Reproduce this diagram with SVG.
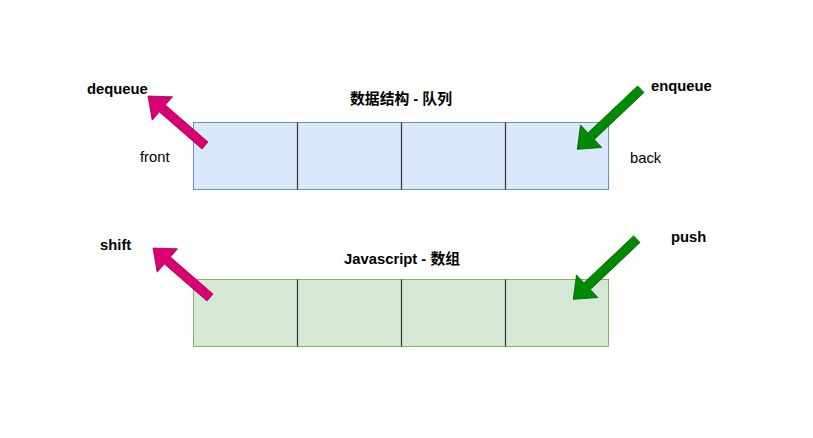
<svg xmlns="http://www.w3.org/2000/svg" width="813" height="438" viewBox="0 0 813 438">
<style>
.bg{fill:#ffffff}
.qcell{fill:#dae8fc;stroke:#6c8ebf;stroke-width:1}
.acell{fill:#d5e8d4;stroke:#82b366;stroke-width:1}
.div{stroke:#333333;stroke-width:1.2}
.out{fill:#d80073;stroke:#a50040;stroke-width:0.8}
.in{fill:#008a00;stroke:#005700;stroke-width:0.8}
.lbl{font-family:"Liberation Sans","Noto Sans CJK SC",sans-serif;font-size:14.8px;fill:#000}
.b{font-weight:bold}
.t{font-family:"Liberation Sans","Noto Sans CJK SC",sans-serif;font-size:14.8px;font-weight:bold;fill:#000;text-anchor:middle}
</style>
<rect class="bg" x="0" y="0" width="813" height="438"/>
<g id="queue">
<rect class="qcell" x="193.5" y="122.5" width="415" height="67"/>
<line class="div" x1="297.5" y1="122.5" x2="297.5" y2="189.5"/>
<line class="div" x1="401.5" y1="122.5" x2="401.5" y2="189.5"/>
<line class="div" x1="505.5" y1="122.5" x2="505.5" y2="189.5"/>
</g>
<g id="array">
<rect class="acell" x="193.5" y="279.5" width="415" height="67"/>
<line class="div" x1="297.5" y1="279.5" x2="297.5" y2="346.5"/>
<line class="div" x1="401.5" y1="279.5" x2="401.5" y2="346.5"/>
<line class="div" x1="505.5" y1="279.5" x2="505.5" y2="346.5"/>
</g>
<g id="connectors">
<polygon id="dequeue-arrow" class="out" points="148,96 172.5,96.8 165.4,105 208,142 202,149 159.3,111.9 152.2,120.2"/>
<polygon id="enqueue-arrow" class="in" points="577.3,149.3 601.8,147.5 594.3,139.5 644,92.5 637.6,85.9 587.9,132.9 580.5,124.9"/>
<polygon id="shift-arrow" class="out" transform="translate(5,152)" points="148,96 172.5,96.8 165.4,105 208,142 202,149 159.3,111.9 152.2,120.2"/>
<polygon id="push-arrow" class="in" transform="translate(-4,150)" points="577.3,149.3 601.8,147.5 594.3,139.5 644,92.5 637.6,85.9 587.9,132.9 580.5,124.9"/>
</g>
<g id="labels">
<text class="t" x="401" y="103.5">数据结构 - 队列</text>
<text class="t" x="402" y="263.5">Javascript - 数组</text>
<text class="lbl b" x="87" y="93.5">dequeue</text>
<text class="lbl b" x="651" y="90.5">enqueue</text>
<text class="lbl" x="140" y="162">front</text>
<text class="lbl" x="630" y="163">back</text>
<text class="lbl b" x="100" y="249.5">shift</text>
<text class="lbl b" x="671" y="241.5">push</text>
</g>
</svg>
